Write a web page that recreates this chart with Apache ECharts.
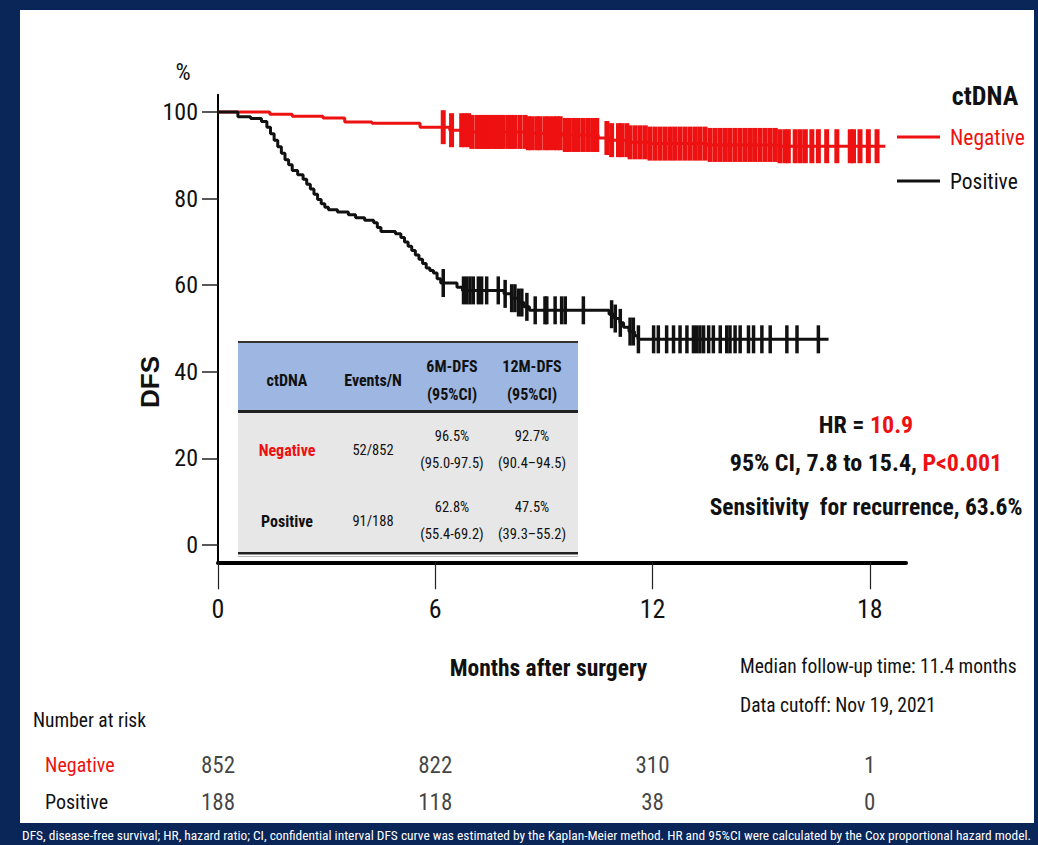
<!DOCTYPE html>
<html><head><meta charset="utf-8">
<script src="https://cdn.jsdelivr.net/npm/echarts@6/dist/echarts.min.js"></script>
<style>
html,body{margin:0;padding:0;}
#frame{position:absolute;left:0;top:0;width:1038px;height:845px;background:#0a2558;}
#white{position:absolute;left:20px;top:10px;width:1014px;height:813px;background:#fff;}
#chart{position:absolute;left:0;top:0;width:1038px;height:845px;}
</style></head>
<body>
<div id="frame"></div><div id="white"></div><div id="chart"></div>
<script>
// ---------- data ----------
const monthTicks = [0, 6, 12, 18];
const yTicks = [0, 20, 40, 60, 80, 100];

// Kaplan-Meier step points (time in months, DFS %)
const negTimes = [0, 1.43, 2.05, 2.9, 3.5, 4.25, 5.58, 6.4, 7.0, 8.5, 9.5, 10.5, 10.8, 11.3, 11.9, 13.5, 15.5, 18.43];
const negSurv  = [100, 99.5, 99.0, 98.6, 97.7, 97.4, 96.5, 95.8, 95.4, 95.1, 94.7, 94.0, 93.5, 93.0, 92.7, 92.4, 92.1, 92.1];

const posTimes = [0, 0.55, 0.9, 1.2, 1.35, 1.45, 1.55, 1.65, 1.75, 1.85, 1.95, 2.05, 2.2, 2.35, 2.45, 2.55, 2.65, 2.75, 2.85, 2.95, 3.05, 3.3, 3.6, 3.8, 4.05, 4.3, 4.4, 4.5, 4.9, 5.05, 5.15, 5.25, 5.35, 5.45, 5.55, 5.65, 5.75, 5.85, 5.95, 6.05, 6.15, 6.6, 6.75, 7.9, 8.1, 8.3, 8.45, 8.6, 10.8, 10.95, 11.1, 11.2, 11.35, 11.5, 11.6, 16.86];
const posSurv  = [100, 98.9, 98.5, 97.8, 96.5, 95.0, 93.5, 92.0, 90.5, 89.0, 87.8, 86.5, 85.5, 84.5, 83.3, 82.2, 81.0, 79.8, 78.8, 78.0, 77.4, 76.9, 76.3, 75.6, 75.0, 74.4, 73.3, 72.4, 71.9, 71.0, 70.0, 69.0, 68.0, 67.0, 66.0, 65.0, 64.0, 63.4, 62.8, 61.5, 60.5, 59.5, 58.8, 58.0, 57.0, 56.0, 55.0, 54.2, 53.3, 52.3, 51.3, 50.3, 49.3, 48.3, 47.5, 47.5];

// censoring times (months)
const negCensor = [6.22, 6.45, 6.73, 6.82, 6.92, 7.01, 7.15, 7.24, 7.33, 7.42, 7.51, 7.61, 7.70, 7.79, 7.88, 8.02, 8.11, 8.20, 8.34, 8.48, 8.57, 8.66, 8.80, 8.89, 9.03, 9.13, 9.26, 9.36, 9.45, 9.59, 9.68, 9.82, 9.95, 10.09, 10.23, 10.37, 10.46, 10.74, 10.87, 11.06, 11.15, 11.29, 11.38, 11.52, 11.66, 11.80, 11.93, 12.07, 12.21, 12.35, 12.49, 12.62, 12.76, 12.90, 13.04, 13.18, 13.31, 13.45, 13.59, 13.73, 13.87, 14.01, 14.14, 14.28, 14.42, 14.56, 14.70, 14.83, 14.97, 15.11, 15.25, 15.39, 15.52, 15.66, 15.75, 15.94, 16.08, 16.22, 16.40, 16.58, 16.81, 17.09, 17.46, 17.55, 17.73, 17.96, 18.20];
const posCensor = [6.22, 6.78, 6.87, 6.96, 7.05, 7.19, 7.28, 7.42, 7.74, 7.93, 8.11, 8.20, 8.30, 8.39, 8.53, 8.76, 9.03, 9.08, 9.31, 9.49, 9.59, 10.09, 10.87, 10.97, 11.11, 11.38, 11.47, 11.61, 12.03, 12.16, 12.39, 12.58, 12.76, 12.95, 13.13, 13.22, 13.31, 13.41, 13.55, 13.68, 13.87, 14.05, 14.14, 14.28, 14.42, 14.65, 14.79, 15.02, 15.25, 15.71, 15.99, 16.58];

const riskNegative = [852, 822, 310, 1];
const riskPositive = [188, 118, 38, 0];

const tableHeader   = ['ctDNA', 'Events/N', '6M-DFS\n(95%CI)', '12M-DFS\n(95%CI)'];
const tableNegative = ['Negative', '52/852', '96.5%\n(95.0-97.5)', '92.7%\n(90.4–94.5)'];
const tablePositive = ['Positive', '91/188', '62.8%\n(55.4-69.2)', '47.5%\n(39.3–55.2)'];

// ---------- helpers ----------
const RED = '#ee1111', BLACK = '#111111';
const NARROW = "'Liberation Sans Narrow','Arial Narrow','Roboto Condensed',sans-serif";
const SANS = "'Liberation Sans',Arial,sans-serif";
function survAt(times, surv, t) {
  let v = surv[0];
  for (let i = 0; i < times.length; i++) { if (times[i] <= t) v = surv[i]; }
  return v;
}
const zip = (a, b) => a.map((x, i) => [x, b[i]]);

// table graphics
const colX = [287, 373, 452, 532];
const rowY = [380, 450, 521];
const tableEls = [
  {type:'rect', shape:{x:238, y:342, width:340, height:70}, style:{fill:'#9db6e2'}},
  {type:'rect', shape:{x:238, y:412, width:340, height:142}, style:{fill:'#e7e7e7'}},
  {type:'rect', shape:{x:238, y:341, width:340, height:2}, style:{fill:'#333'}},
  {type:'rect', shape:{x:238, y:410, width:340, height:3}, style:{fill:'#222'}},
  {type:'rect', shape:{x:238, y:552, width:340, height:2.5}, style:{fill:'#222'}},
  {type:'rect', shape:{x:238, y:556, width:340, height:1}, style:{fill:'#bbb'}}
];
[tableHeader, tableNegative, tablePositive].forEach((row, r) => {
  row.forEach((txt, c) => {
    const isHead = r === 0;
    const bold = isHead || c === 0;
    tableEls.push({
      type:'text', x:colX[c], y:rowY[r],
      style:{text:txt, align:'center', verticalAlign:'middle',
        fontFamily:NARROW, fontSize: bold ? 16 : 14.5, fontWeight: bold ? 'bold' : 'normal',
        lineHeight: isHead ? 28 : 27,
        fill: (r === 1 && c === 0) ? RED : BLACK}
    });
  });
});

const chart = echarts.init(document.getElementById('chart'), null, {renderer:'svg'});
chart.setOption({
  animation:false,
  backgroundColor:'transparent',
  grid:[
    {left:218, top:94.7, width:688, height:467.6, outerBoundsMode:'none'},
    {left:218, top:746.5, width:688, height:74, outerBoundsMode:'none'}
  ],
  xAxis:[
    {type:'value', gridIndex:0, min:0, max:19,
     axisLine:{onZero:false, lineStyle:{color:'#000', width:4}},
     axisTick:{customValues:monthTicks, length:27, lineStyle:{color:'#222', width:1.2}},
     axisLabel:{customValues:monthTicks, fontSize:26, margin:34, color:'#111', fontFamily:NARROW},
     splitLine:{show:false},
     name:'Months after surgery', nameLocation:'middle', nameGap:94,
     nameTextStyle:{fontSize:23.5, fontWeight:'bold', color:'#111', fontFamily:NARROW, padding:[0,27,0,0]}},
    {type:'value', gridIndex:1, min:0, max:19, show:false}
  ],
  yAxis:[
    {type:'value', gridIndex:0, min:-4, max:104,
     axisLine:{show:true, onZero:false, lineStyle:{color:'#000', width:2}},
     axisTick:{show:true, customValues:yTicks, length:16, lineStyle:{color:'#222', width:1.5}},
     axisLabel:{customValues:yTicks, fontSize:24, margin:20, color:'#111', fontFamily:NARROW},
     splitLine:{show:false}},
    {type:'category', gridIndex:1, data:['Positive','Negative'],
     axisLine:{show:false}, axisTick:{show:false}, splitLine:{show:false},
     axisLabel:{align:'left', margin:173, fontSize:20, fontFamily:NARROW,
       formatter:v => v === 'Negative' ? '{r|' + v + '}' : '{k|' + v + '}',
       rich:{r:{color:RED, fontSize:20, fontFamily:NARROW}, k:{color:BLACK, fontSize:20, fontFamily:NARROW}}}}
  ],
  legend:{
    orient:'vertical', left:897, top:123, padding:0, itemGap:16,
    icon:'rect', itemWidth:43, itemHeight:3,
    textStyle:{fontSize:21.5, lineHeight:28, fontFamily:NARROW, padding:[0,0,0,5]},
    data:[{name:'Negative', textStyle:{color:RED}}, {name:'Positive', textStyle:{color:BLACK}}]
  },
  series:[
    {name:'Negative', type:'line', step:'end', symbol:'none', xAxisIndex:0, yAxisIndex:0,
     lineStyle:{color:RED, width:3}, itemStyle:{color:RED}, data:zip(negTimes, negSurv), z:3},
    {name:'Positive', type:'line', step:'end', symbol:'none', xAxisIndex:0, yAxisIndex:0,
     lineStyle:{color:BLACK, width:3}, itemStyle:{color:BLACK}, data:zip(posTimes, posSurv), z:3},
    {name:'Negative censored', type:'scatter', symbol:'rect', symbolSize:[5, 34],
     itemStyle:{color:RED, opacity:1}, data:negCensor.map(t => [t, survAt(negTimes, negSurv, t)]), z:4},
    {name:'Positive censored', type:'scatter', symbol:'rect', symbolSize:[3.5, 28],
     itemStyle:{color:BLACK, opacity:1}, data:posCensor.map(t => [t, survAt(posTimes, posSurv, t)]), z:4},
    {name:'At risk Negative', type:'scatter', xAxisIndex:1, yAxisIndex:1, symbolSize:1,
     itemStyle:{color:'rgba(0,0,0,0)'},
     label:{show:true, position:'inside', fontSize:23, color:BLACK, fontFamily:NARROW, formatter:p => p.value[2]},
     data:monthTicks.map((m, i) => [m, 'Negative', riskNegative[i]])},
    {name:'At risk Positive', type:'scatter', xAxisIndex:1, yAxisIndex:1, symbolSize:1,
     itemStyle:{color:'rgba(0,0,0,0)'},
     label:{show:true, position:'inside', fontSize:23, color:BLACK, fontFamily:NARROW, formatter:p => p.value[2]},
     data:monthTicks.map((m, i) => [m, 'Positive', riskPositive[i]])}
  ],
  graphic:[
    {type:'text', x:183, y:72, style:{text:'%', align:'center', verticalAlign:'middle', fontSize:24, fontFamily:NARROW, fill:BLACK}},
    {type:'text', x:150, y:382, rotation:Math.PI/2, style:{text:'DFS', align:'center', verticalAlign:'middle', fontSize:26, fontWeight:'bold', fontFamily:SANS, fill:BLACK}},
    {type:'text', x:985, y:96, style:{text:'ctDNA', align:'center', verticalAlign:'middle', fontSize:26, fontWeight:'bold', fontFamily:NARROW, fill:BLACK}},
    {type:'text', x:866, y:425, style:{text:'{k|HR = }{r|10.9}', align:'center', verticalAlign:'middle',
      rich:{k:{fontSize:24, fontWeight:'bold', fontFamily:NARROW, fill:BLACK}, r:{fontSize:24, fontWeight:'bold', fontFamily:NARROW, fill:RED}}}},
    {type:'text', x:866, y:463, style:{text:'{k|95% CI, 7.8 to 15.4, }{r|P<0.001}', align:'center', verticalAlign:'middle',
      rich:{k:{fontSize:24, fontWeight:'bold', fontFamily:NARROW, fill:BLACK}, r:{fontSize:24, fontWeight:'bold', fontFamily:NARROW, fill:RED}}}},
    {type:'text', x:866, y:507, style:{text:'Sensitivity  for recurrence, 63.6%', align:'center', verticalAlign:'middle', fontSize:23.5, fontWeight:'bold', fontFamily:NARROW, fill:BLACK}},
    {type:'text', x:740, y:666, style:{text:'Median follow-up time: 11.4 months', align:'left', verticalAlign:'middle', fontSize:19.5, fontFamily:NARROW, fill:BLACK}},
    {type:'text', x:740, y:705, style:{text:'Data cutoff: Nov 19, 2021', align:'left', verticalAlign:'middle', fontSize:19.5, fontFamily:NARROW, fill:BLACK}},
    {type:'text', x:33, y:720, style:{text:'Number at risk', align:'left', verticalAlign:'middle', fontSize:19.5, fontFamily:NARROW, fill:BLACK}},
    {type:'text', x:22, y:835, style:{text:'DFS, disease-free survival; HR, hazard ratio; CI, confidential interval DFS curve was estimated by the Kaplan-Meier method. HR and 95%CI were calculated by the Cox proportional hazard model.', align:'left', verticalAlign:'middle', fontSize:13.4, fontFamily:NARROW, fill:'#ffffff'}},
    {type:'group', children:tableEls}
  ]
});
</script>
</body></html>
